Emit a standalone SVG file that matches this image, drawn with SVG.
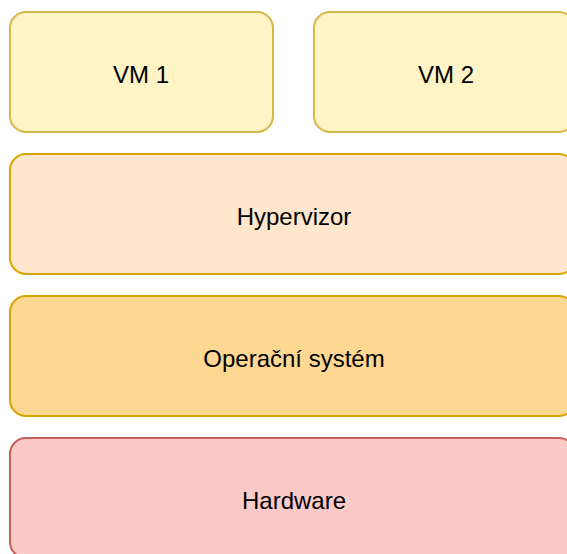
<svg xmlns="http://www.w3.org/2000/svg" width="567" height="554" viewBox="0 0 567 554">
  <style>
    .box { stroke-width: 2; }
    .vm { fill: #fff4c6; stroke: #d6b84a; }
    .hyp { fill: #ffe6cc; stroke: #d9a500; }
    .os { fill: #fed793; stroke: #d9a500; }
    .hw { fill: #fbcac8; stroke: #c95f5a; }
    .label { font-family: "Liberation Sans", Arial, Helvetica, sans-serif; font-size: 24px; fill: #000000; text-anchor: middle; dominant-baseline: central; }
  </style>
  <rect width="567" height="554" fill="#ffffff"/>
  <g id="vm1">
    <rect class="box vm" x="10" y="12" width="263" height="120" rx="16" ry="16"/>
    <text class="label" x="141" y="74">VM 1</text>
  </g>
  <g id="vm2">
    <rect class="box vm" x="314" y="12" width="261" height="120" rx="16" ry="16"/>
    <text class="label" x="446" y="74">VM 2</text>
  </g>
  <g id="hypervizor">
    <rect class="box hyp" x="10" y="154" width="565" height="120" rx="16" ry="16"/>
    <text class="label" x="294" y="216">Hypervizor</text>
  </g>
  <g id="os">
    <rect class="box os" x="10" y="296" width="565" height="120" rx="16" ry="16"/>
    <text class="label" x="294" y="358">Operační systém</text>
  </g>
  <g id="hardware">
    <rect class="box hw" x="10" y="438" width="565" height="120" rx="16" ry="16"/>
    <text class="label" x="294" y="500">Hardware</text>
  </g>
  <g id="connectors"/>
</svg>
